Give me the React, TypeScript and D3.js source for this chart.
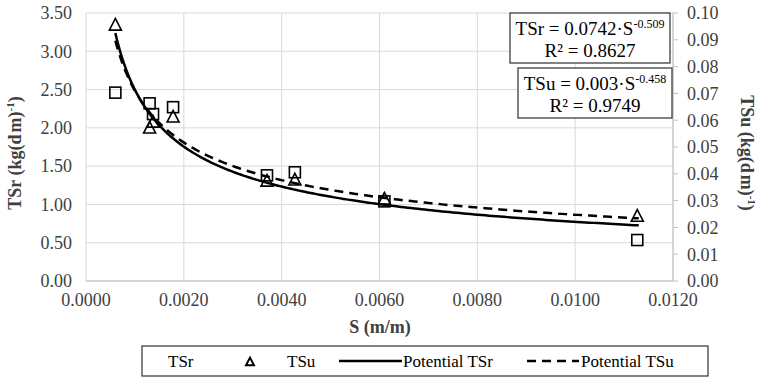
import React from "react";
import * as d3 from "d3";

const sValues = [0.0006, 0.0013, 0.00137, 0.00178, 0.0037, 0.00427, 0.0061, 0.01127];
const tsrValues = [2.46, 2.32, 2.18, 2.27, 1.38, 1.42, 1.04, 0.535];
const tsuValues = [0.0955, 0.0571, 0.0593, 0.0612, 0.0373, 0.0377, 0.0306, 0.0242];
const xTicks = [0, 0.002, 0.004, 0.006, 0.008, 0.01, 0.012];
const yLeftTicks = [0, 0.5, 1, 1.5, 2, 2.5, 3, 3.5];
const yRightTicks = [0, 0.01, 0.02, 0.03, 0.04, 0.05, 0.06, 0.07, 0.08, 0.09, 0.1];
const fitTSr = { a: 0.0742, b: -0.509, r2: "0.8627" };
const fitTSu = { a: 0.003, b: -0.458, r2: "0.9749" };

const W = 758, H = 378;
const L = 86, R = 673, T = 13, B = 281;
const FONT = "Liberation Serif";

export default function App() {
  const x = d3.scaleLinear().domain([0, 0.012]).range([L, R]);
  const yL = d3.scaleLinear().domain([0, 3.5]).range([B, T]);
  const yR = d3.scaleLinear().domain([0, 0.1]).range([B, T]);

  const sMin = 0.0006, sMax = 0.0113;
  const curveS = d3.range(0, 201).map(i => sMin + (sMax - sMin) * Math.pow(i / 200, 1.6));
  const lineL = d3.line<number>().x(s => x(s)).y(s => yL(fitTSr.a * Math.pow(s, fitTSr.b)));
  const lineR = d3.line<number>().x(s => x(s)).y(s => yR(fitTSu.a * Math.pow(s, fitTSu.b)));

  const sq = 11;
  const tri = (cx: number, cy: number, s = 12) =>
    `M${cx},${cy - s * 0.55} L${cx + s / 2},${cy + s * 0.42} L${cx - s / 2},${cy + s * 0.42} Z`;

  const txt = { fontFamily: FONT } as React.CSSProperties;
  const midY = 153;

  return (
    <svg width={W} height={H} style={{ position: "absolute", left: 0, top: 0, background: "#fff", fontFamily: FONT }}>
      <rect width={W} height={H} fill="#fff" />
      {yLeftTicks.map(t => (
        <line key={"gy" + t} x1={L} x2={R} y1={yL(t)} y2={yL(t)} stroke="#d9d9d9" strokeWidth={1} />
      ))}
      {xTicks.map(t => (
        <line key={"gx" + t} x1={x(t)} x2={x(t)} y1={T} y2={B} stroke="#d9d9d9" strokeWidth={1} />
      ))}
      <line x1={L} x2={R} y1={B} y2={B} stroke="#bfbfbf" strokeWidth={1} />
      <line x1={R} x2={R} y1={T} y2={B} stroke="#bfbfbf" strokeWidth={1} />
      {yRightTicks.map(t => (
        <line key={"rt" + t} x1={R} x2={R + 5} y1={yR(t)} y2={yR(t)} stroke="#bfbfbf" strokeWidth={1} />
      ))}
      {yLeftTicks.map(t => (
        <text key={"yl" + t} style={txt} x={L - 14} y={yL(t)} dy="0.35em" textAnchor="end" fontSize={18} fill="#404040">
          {t.toFixed(2)}
        </text>
      ))}
      {yRightTicks.map(t => (
        <text key={"yr" + t} style={txt} x={R + 14} y={yR(t)} dy="0.35em" textAnchor="start" fontSize={18} fill="#404040">
          {t.toFixed(2)}
        </text>
      ))}
      {xTicks.map(t => (
        <text key={"xl" + t} style={txt} x={x(t)} y={B + 25} textAnchor="middle" fontSize={18} fill="#404040">
          {t.toFixed(4)}
        </text>
      ))}
      <text style={txt} x={380} y={333} textAnchor="middle" fontSize={18} fontWeight="bold" fill="#404040">S (m/m)</text>
      <text style={txt} transform={`translate(21,${midY}) rotate(-90)`} textAnchor="middle" fontSize={18} fontWeight="bold" fill="#404040">
        TSr (kg(d<tspan dx={2}>m)</tspan><tspan dy={-7} fontSize={11}>-1</tspan><tspan dy={7}>)</tspan>
      </text>
      <text style={txt} transform={`translate(741,${midY}) rotate(90)`} textAnchor="middle" fontSize={18} fontWeight="bold" fill="#404040">
        TSu (kg(d<tspan dx={2}>m)</tspan><tspan dy={-7} fontSize={11}>-1</tspan><tspan dy={7}>)</tspan>
      </text>
      <path d={lineL(curveS) || ""} fill="none" stroke="#000" strokeWidth={2.5} />
      <path d={lineR(curveS) || ""} fill="none" stroke="#000" strokeWidth={2.5} strokeDasharray="9,6" />
      {sValues.map((s, i) => (
        <rect key={"sq" + i} x={x(s) - sq / 2} y={yL(tsrValues[i]) - sq / 2} width={sq} height={sq} fill="none" stroke="#000" strokeWidth={1.6} />
      ))}
      {sValues.map((s, i) => (
        <path key={"tr" + i} d={tri(x(s), yR(tsuValues[i]))} fill="none" stroke="#000" strokeWidth={1.6} />
      ))}
      <rect x={510} y={13} width={160} height={50} fill="#fff" stroke="#404040" strokeWidth={1.3} />
      <text style={txt} x={590} y={35} textAnchor="middle" fontSize={19} fill="#000">
        TSr = 0.0742·S<tspan dy={-7} fontSize={12}>-0.509</tspan>
      </text>
      <text style={txt} x={590} y={57} textAnchor="middle" fontSize={19} fill="#000">R² = {fitTSr.r2}</text>
      <rect x={518} y={68} width={154} height={50} fill="#fff" stroke="#404040" strokeWidth={1.3} />
      <text style={txt} x={595} y={90} textAnchor="middle" fontSize={19} fill="#000">
        TSu = 0.003·S<tspan dy={-7} fontSize={12}>-0.458</tspan>
      </text>
      <text style={txt} x={595} y={112} textAnchor="middle" fontSize={19} fill="#000">R² = {fitTSu.r2}</text>
      <rect x={142} y={346} width={566} height={30} fill="#fff" stroke="#404040" strokeWidth={1.3} />
      <text style={txt} x={168} y={367} fontSize={17} fill="#000">TSr</text>
      <path d={tri(250, 362, 8)} fill="none" stroke="#000" strokeWidth={2} />
      <text style={txt} x={287} y={367} fontSize={17} fill="#000">TSu</text>
      <line x1={339} x2={402} y1={361} y2={361} stroke="#000" strokeWidth={2.5} />
      <text style={txt} x={403} y={367} fontSize={17} fill="#000">Potential TSr</text>
      <line x1={527} x2={579} y1={361} y2={361} stroke="#000" strokeWidth={2.5} strokeDasharray="9,6" />
      <text style={txt} x={581} y={367} fontSize={17} fill="#000">Potential TSu</text>
    </svg>
  );
}
